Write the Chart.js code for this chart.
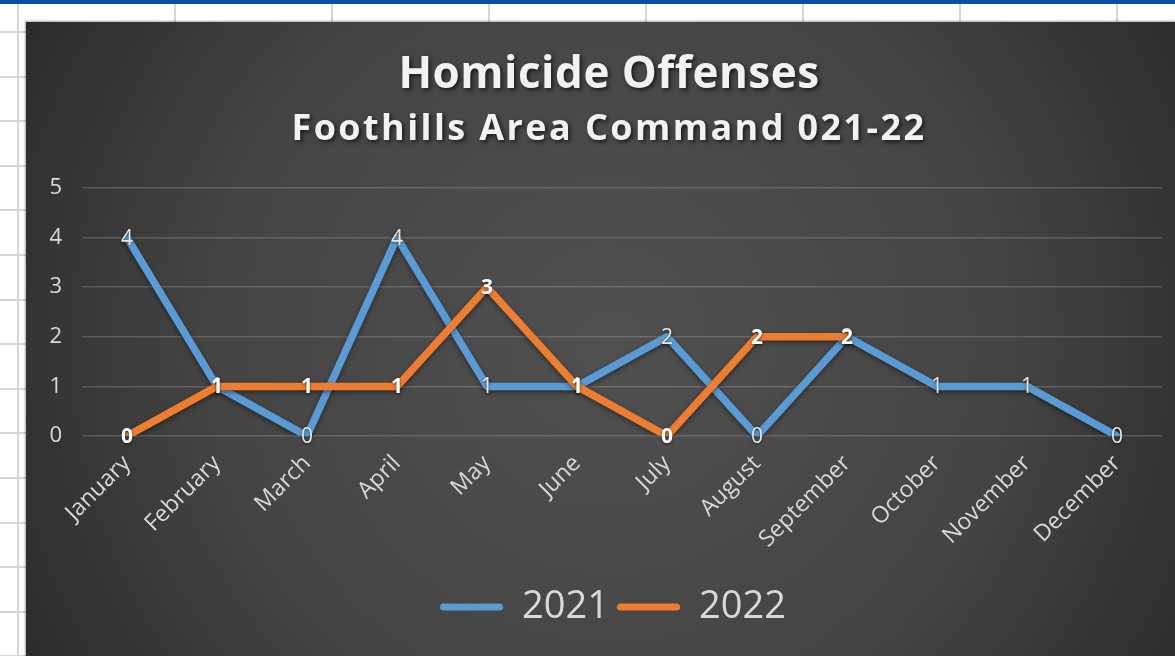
<!DOCTYPE html>
<html>
<head>
<meta charset="utf-8">
<script src="https://cdn.jsdelivr.net/npm/chart.js@4.4.1/dist/chart.umd.min.js"></script>
<style>
    html, body {
        margin: 0;
        padding: 0;
        width: 1175px;
        height: 656px;
        overflow: hidden;
        background-color: #ffffff;
    }
    /* spreadsheet grid behind the chart */
    #sheet {
        position: absolute;
        left: 0;
        top: 0;
        width: 1175px;
        height: 656px;
        background-image:
            repeating-linear-gradient(to right, transparent 0px, transparent 17px, #d6d6d6 17px, #d6d6d6 19px, transparent 19px, transparent 157px),
            repeating-linear-gradient(to bottom, transparent 0px, transparent 31px, #d6d6d6 31px, #d6d6d6 33px, transparent 33px, transparent 44.6px);
    }
    #topbar {
        position: absolute;
        left: 0;
        top: 0;
        width: 1175px;
        height: 4px;
        background-color: #0d4ea6;
    }
    #chart-box {
        position: absolute;
        left: 26px;
        top: 22px;
        width: 1166px;
        height: 640px;
        box-shadow: -1px -1px 2px rgba(0, 0, 0, 0.35);
    }
</style>
</head>
<body>
<div id="sheet"></div>
<div id="topbar"></div>
<div id="chart-box">
    <canvas id="homicideChart" width="1166" height="640"></canvas>
</div>

<script>
// chart data
const months = ['January', 'February', 'March', 'April', 'May', 'June',
    'July', 'August', 'September', 'October', 'November', 'December'];
const offenses2021 = [4, 1, 0, 4, 1, 1, 2, 0, 2, 1, 1, 0];
const offenses2022 = [0, 1, 1, 1, 3, 1, 0, 2, 2, null, null, null];
const yTicks = [0, 1, 2, 3, 4, 5];
const titleText = 'Homicide Offenses';
const subtitleText = 'Foothills Area Command 021-22';

const blue = '#5b9bd5';
const orange = '#ed7d31';
const textColor = '#d9d9d9';
const fontFamily = "'Open Sans', 'DejaVu Sans', sans-serif";

// dark radial background like the office theme
const backgroundPlugin = {
    id: 'darkBackground',
    beforeDraw(chart) {
        const ctx = chart.ctx;
        const w = chart.width;
        const h = chart.height;
        const grad = ctx.createRadialGradient(w * 0.5, h * 0.5, 0, w * 0.5, h * 0.5, w * 0.62);
        grad.addColorStop(0, '#505050');
        grad.addColorStop(0.55, '#444444');
        grad.addColorStop(1, '#262626');
        ctx.save();
        ctx.fillStyle = grad;
        ctx.fillRect(0, 0, w, h);
        ctx.restore();
    }
};

// the excel legend sits a little right of the canvas centre
const legendShiftPlugin = {
    id: 'legendShift',
    afterLayout(chart) {
        if (chart.legend) {
            chart.legend.left += 19;
            chart.legend.right += 19;
        }
    }
};

// title + subtitle with the shadowed, spaced look of the original
const titlePlugin = {
    id: 'shadowTitle',
    afterDraw(chart) {
        const ctx = chart.ctx;
        const cx = chart.width / 2;
        ctx.save();
        ctx.textAlign = 'center';
        ctx.textBaseline = 'alphabetic';
        ctx.fillStyle = '#f2f2f2';
        ctx.shadowColor = 'rgba(0, 0, 0, 0.65)';
        ctx.shadowBlur = 4;
        ctx.shadowOffsetX = 2;
        ctx.shadowOffsetY = 2;
        ctx.font = 'bold 44px ' + fontFamily;
        ctx.letterSpacing = '0.5px';
        ctx.fillText(titleText, cx, 66);
        ctx.font = 'bold 36px ' + fontFamily;
        ctx.letterSpacing = '2.4px';
        ctx.fillText(subtitleText, cx, 118);
        ctx.restore();
    }
};

// soft shadow under the lines
const lineShadowPlugin = {
    id: 'lineShadow',
    beforeDatasetsDraw(chart) {
        const ctx = chart.ctx;
        ctx.save();
        ctx.shadowColor = 'rgba(0, 0, 0, 0.45)';
        ctx.shadowBlur = 5;
        ctx.shadowOffsetY = 2;
    },
    afterDatasetsDraw(chart) {
        chart.ctx.restore();
    }
};

// value labels sitting on each point
const valueLabelPlugin = {
    id: 'valueLabels',
    afterDatasetsDraw(chart) {
        const ctx = chart.ctx;
        ctx.save();
        ctx.textAlign = 'center';
        ctx.textBaseline = 'middle';
        ctx.shadowColor = 'rgba(0, 0, 0, 0.6)';
        ctx.shadowBlur = 3;
        ctx.shadowOffsetY = 1;
        chart.data.datasets.forEach((ds, i) => {
            const meta = chart.getDatasetMeta(i);
            ctx.font = (i === 1 ? 'bold ' : '') + '21px ' + fontFamily;
            ctx.fillStyle = i === 1 ? '#ffffff' : '#e6e6e6';
            meta.data.forEach((pt, j) => {
                const v = ds.data[j];
                if (v === null || v === undefined) return;
                ctx.fillText(String(v), pt.x, pt.y + 1);
            });
        });
        ctx.restore();
    }
};

const ctx = document.getElementById('homicideChart').getContext('2d');
new Chart(ctx, {
    type: 'line',
    data: {
        labels: months,
        datasets: [{
            label: '2021',
            data: offenses2021,
            borderColor: blue,
            backgroundColor: blue,
            borderWidth: 7.5,
            pointRadius: 0,
            tension: 0,
            borderCapStyle: 'round',
            borderJoinStyle: 'round',
            order: 1
        }, {
            label: '2022',
            data: offenses2022,
            borderColor: orange,
            backgroundColor: orange,
            borderWidth: 7.5,
            pointRadius: 0,
            tension: 0,
            spanGaps: false,
            borderCapStyle: 'round',
            borderJoinStyle: 'round',
            order: 0
        }]
    },
    options: {
        responsive: false,
        devicePixelRatio: 1,
        animation: false,
        layout: {
            padding: { left: 0, right: 30, top: 166, bottom: 26 }
        },
        plugins: {
            title: { display: false },
            legend: {
                position: 'bottom',
                labels: {
                    color: textColor,
                    font: { family: fontFamily, size: 38 },
                    boxWidth: 63,
                    boxHeight: 7,
                    useBorderRadius: true,
                    borderRadius: 3.5,
                    padding: 8,
                    sort: (a, b) => a.datasetIndex - b.datasetIndex,
                    generateLabels(chart) {
                        const items = Chart.defaults.plugins.legend.labels.generateLabels(chart);
                        items.forEach(item => { item.lineWidth = 0; });
                        return items;
                    }
                }
            },
            tooltip: { enabled: false }
        },
        scales: {
            x: {
                offset: true,
                grid: { display: false },
                border: { display: false },
                ticks: {
                    color: textColor,
                    font: { family: fontFamily, size: 23 },
                    minRotation: 45,
                    maxRotation: 45,
                    padding: 6,
                    autoSkip: false
                },
                afterFit(scale) {
                    scale.height = 144;
                }
            },
            y: {
                min: yTicks[0],
                max: yTicks[yTicks.length - 1],
                grid: {
                    color: 'rgba(255, 255, 255, 0.17)',
                    lineWidth: 1.5,
                    drawTicks: false
                },
                border: { display: false },
                ticks: {
                    stepSize: 1,
                    color: textColor,
                    font: { family: fontFamily, size: 22 },
                    padding: 20
                },
                afterFit(scale) {
                    scale.width = 56;
                }
            }
        }
    },
    plugins: [backgroundPlugin, legendShiftPlugin, lineShadowPlugin, valueLabelPlugin, titlePlugin]
});
</script>
</body>
</html>
